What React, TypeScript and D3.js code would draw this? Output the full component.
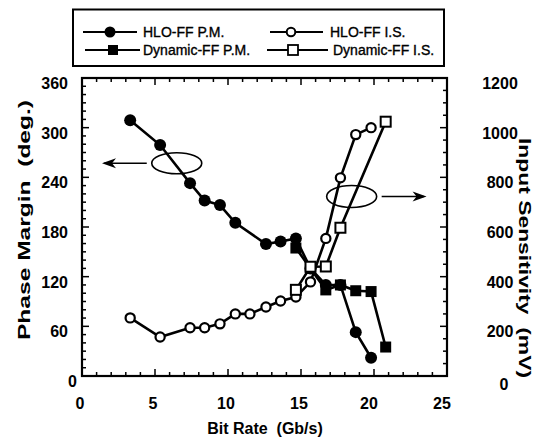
import React from "react";
import * as d3 from "d3";

const hloPmX = [3.3, 5.35, 7.4, 8.4, 9.45, 10.5, 12.6, 13.6, 14.65, 15.65, 16.7, 17.7, 18.75, 19.8];
const hloPmY = [309, 279, 233, 212, 206.5, 185, 159.4, 162.4, 166, 130, 110, 110, 53, 22];
const dynPmX = [14.65, 15.65, 16.7, 17.7, 18.75, 19.8, 20.8];
const dynPmY = [154.6, 130, 104, 110, 103, 102, 35];
const hloIsX = [3.3, 5.35, 7.4, 8.4, 9.45, 10.5, 11.5, 12.6, 13.6, 14.65, 15.65, 16.7, 17.7, 18.75, 19.8];
const hloIsY = [234, 157, 194, 194, 210, 250, 250, 278, 302, 318, 379, 554, 798, 972, 1000];
const dynIsX = [14.65, 15.65, 16.7, 17.7, 20.8];
const dynIsY = [347, 440, 441, 597, 1024];

const xTicks = [0, 5, 10, 15, 20, 25];
const leftTicks = [0, 60, 120, 180, 240, 300, 360];
const rightTicks = [0, 200, 400, 600, 800, 1000, 1200];
const legendLabels = ["HLO-FF P.M.", "HLO-FF I.S.", "Dynamic-FF P.M.", "Dynamic-FF I.S."];

const FONT = "'Liberation Sans', Arial, Helvetica, sans-serif";

export default function App() {
  const L = 82, R = 447, T = 78, B = 376;
  const x = d3.scaleLinear().domain([0, 25]).range([L, R]);
  const yL = d3.scaleLinear().domain([0, 360]).range([B, T]);
  const yR = d3.scaleLinear().domain([0, 1200]).range([B, T]);

  const line = d3.line<[number, number]>().x((d) => d[0]).y((d) => d[1]);
  const pts = (xs: number[], ys: number[], ys2: d3.ScaleLinear<number, number>) =>
    xs.map((v, i) => [x(v), ys2(ys[i])] as [number, number]);

  const hloPm = pts(hloPmX, hloPmY, yL);
  const dynPm = pts(dynPmX, dynPmY, yL);
  const hloIs = pts(hloIsX, hloIsY, yR);
  const dynIs = pts(dynIsX, dynIsY, yR);

  const minorX = d3.range(0, 26, 1);
  const minorL = d3.range(0, 361, 10);
  const minorR = d3.range(0, 1201, 50);

  const lw = 2.6;
  const circF = (p: [number, number], k: string) => <circle key={k} cx={p[0]} cy={p[1]} r={6} fill="#000" />;
  const circO = (p: [number, number], k: string) => <circle key={k} cx={p[0]} cy={p[1]} r={4.6} fill="#fff" stroke="#000" strokeWidth={2.2} />;
  const sqF = (p: [number, number], k: string) => <rect key={k} x={p[0] - 5.5} y={p[1] - 5.5} width={11} height={11} fill="#000" />;
  const sqO = (p: [number, number], k: string) => <rect key={k} x={p[0] - 5} y={p[1] - 5} width={10} height={10} fill="#fff" stroke="#000" strokeWidth={2} />;

  const e1x = x(6.49), e1y = yL(257);
  const e2x = x(18.47), e2y = yR(723);

  const legTxt = { fontSize: 14, stroke: "#000", strokeWidth: 0.35 } as const;

  return (
    <svg width={541} height={437} style={{ position: "absolute", left: 0, top: 0, background: "#fff" }} fontFamily={FONT}>
      <rect x={0} y={0} width={541} height={437} fill="#fff" />
      {/* legend */}
      <rect x={73} y={9.5} width={371} height={56.5} fill="#fff" stroke="#000" strokeWidth={2} />
      <g>
        <line x1={83} x2={137} y1={32} y2={32} stroke="#000" strokeWidth={2.2} />
        <circle cx={110} cy={32} r={5.5} fill="#000" />
        <text x={143} y={37} {...legTxt}>{legendLabels[0]}</text>
        <line x1={270} x2={323} y1={32} y2={32} stroke="#000" strokeWidth={2.2} />
        <circle cx={291} cy={32} r={4.3} fill="#fff" stroke="#000" strokeWidth={2} />
        <text x={330} y={37} {...legTxt}>{legendLabels[1]}</text>
        <line x1={85} x2={140} y1={50} y2={50} stroke="#000" strokeWidth={2.2} />
        <rect x={108} y={45} width={10} height={10} fill="#000" />
        <text x={143} y={55} {...legTxt}>{legendLabels[2]}</text>
        <line x1={267} x2={328} y1={50} y2={50} stroke="#000" strokeWidth={2.2} />
        <rect x={288} y={45} width={10} height={10} fill="#fff" stroke="#000" strokeWidth={1.8} />
        <text x={333} y={55} {...legTxt}>{legendLabels[3]}</text>
      </g>

      {/* ticks */}
      {minorX.map((v) => {
        const len = v % 5 === 0 ? 7 : 4;
        return (
          <g key={"xt" + v}>
            <line x1={x(v)} x2={x(v)} y1={B} y2={B - len} stroke="#000" strokeWidth={1.5} />
            <line x1={x(v)} x2={x(v)} y1={T} y2={T + len} stroke="#000" strokeWidth={1.5} />
          </g>
        );
      })}
      {minorL.map((v) => {
        const len = v % 60 === 0 ? 7 : 4;
        return <line key={"lt" + v} x1={L} x2={L + len} y1={yL(v)} y2={yL(v)} stroke="#000" strokeWidth={1.5} />;
      })}
      {minorR.map((v) => {
        const len = v % 200 === 0 ? 7 : 4;
        return <line key={"rt" + v} x1={R} x2={R - len} y1={yR(v)} y2={yR(v)} stroke="#000" strokeWidth={1.5} />;
      })}
      <rect x={L} y={T} width={R - L} height={B - T} fill="none" stroke="#000" strokeWidth={2.2} />

      {/* tick labels */}
      {xTicks.map((v) => (
        <text key={"xl" + v} x={x(v) - (v >= 20 ? 5 : 2)} y={409} fontSize={16} fontWeight="bold" textAnchor="middle">{v}</text>
      ))}
      {leftTicks.map((v) => (
        <text key={"ll" + v} x={v === 0 ? 77 : 68} y={yL(v) + 11} fontSize={16} fontWeight="bold" textAnchor="end">{v}</text>
      ))}
      {rightTicks.map((v) => (
        <text key={"rl" + v} x={v === 0 ? 504 : 500} y={v === 0 ? yR(v) + 14 : yR(v) + 11} fontSize={16} fontWeight="bold" textAnchor="middle">{v}</text>
      ))}

      {/* axis titles */}
      <text x={265} y={434} fontSize={16} fontWeight="bold" textAnchor="middle" style={{ whiteSpace: "pre" }}>Bit Rate  (Gb/s)</text>
      <text transform="translate(30,220) rotate(-90)" fontSize={16} fontWeight="bold" textAnchor="middle" textLength={240} lengthAdjust="spacingAndGlyphs" style={{ whiteSpace: "pre" }}>Phase Margin  (deg.)</text>
      <text transform="translate(519,258) rotate(90)" fontSize={16} fontWeight="bold" textAnchor="middle" textLength={240} lengthAdjust="spacingAndGlyphs" style={{ whiteSpace: "pre" }}>Input Sensitivity  (mV)</text>

      {/* lines */}
      <path d={line(hloIs) || ""} fill="none" stroke="#000" strokeWidth={lw} />
      <path d={line(dynIs) || ""} fill="none" stroke="#000" strokeWidth={lw} />
      <path d={line(hloPm) || ""} fill="none" stroke="#000" strokeWidth={lw} />
      <path d={line(dynPm) || ""} fill="none" stroke="#000" strokeWidth={lw} />

      {hloPm.map((p, i) => circF(p, "hp" + i))}
      {dynPm.map((p, i) => sqF(p, "dp" + i))}
      {hloIs.map((p, i) => circO(p, "hi" + i))}
      {dynIs.map((p, i) => sqO(p, "di" + i))}

      {/* annotations */}
      <ellipse cx={e1x} cy={e1y} rx={25} ry={10.5} fill="none" stroke="#000" strokeWidth={1.6} />
      <line x1={e1x - 30} x2={x(1.5)} y1={e1y} y2={e1y} stroke="#000" strokeWidth={1.5} />
      <path d={`M${x(1.37)},${e1y} l14,-5 l-4,5 l4,5 z`} fill="#000" />
      <ellipse cx={e2x} cy={e2y} rx={25} ry={11} fill="none" stroke="#000" strokeWidth={1.6} />
      <line x1={e2x + 30} x2={x(23.4)} y1={e2y} y2={e2y} stroke="#000" strokeWidth={1.5} />
      <path d={`M${x(23.6)},${e2y} l-14,-5 l4,5 l-4,5 z`} fill="#000" />
    </svg>
  );
}
